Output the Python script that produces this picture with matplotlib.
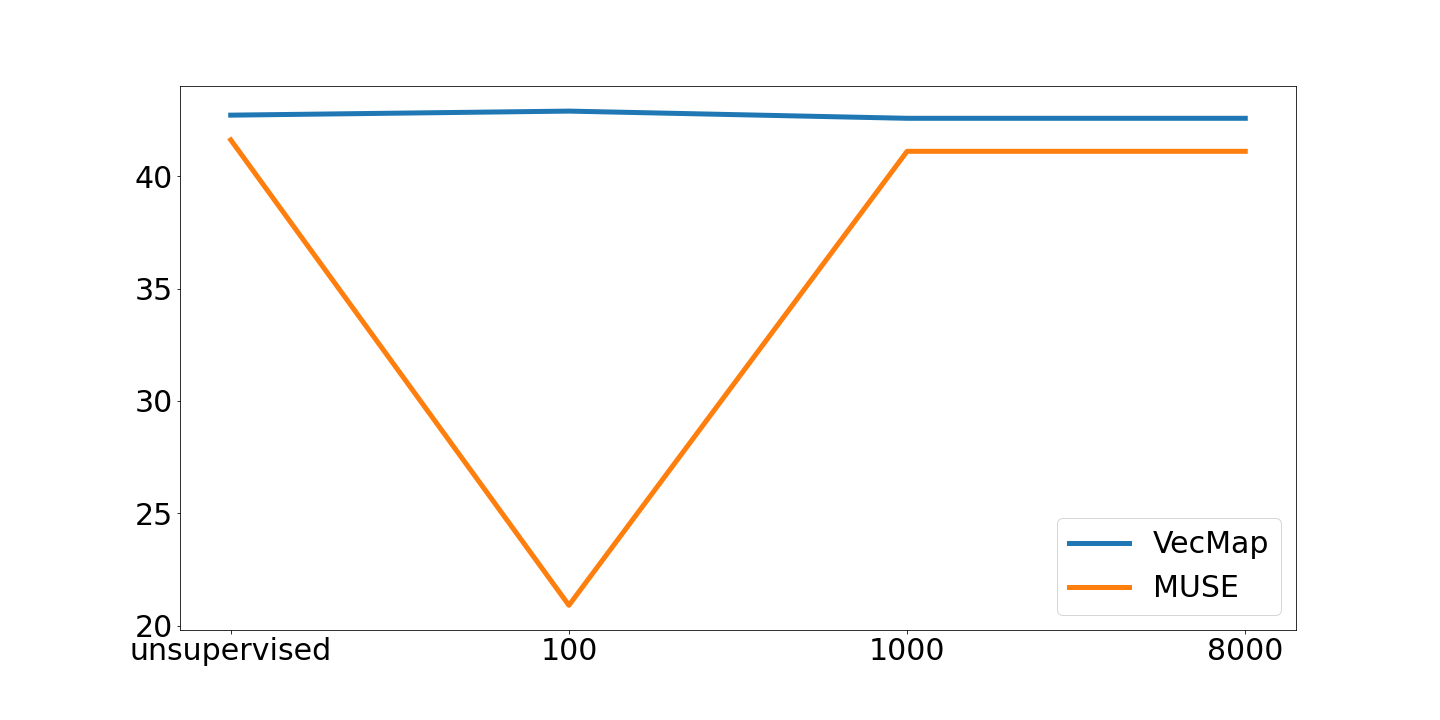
import matplotlib
matplotlib.use('Agg')
import matplotlib.pyplot as plt

# Data
settings = ['unsupervised', '100', '1000', '8000']
vecmap = [42.72, 42.9, 42.58, 42.58]
muse = [41.62, 20.9, 41.11, 41.11]

fig, ax = plt.subplots(figsize=(20, 10), dpi=72)
fig.subplots_adjust(left=0.125, right=0.9, top=0.88, bottom=0.125)

ax.plot(settings, vecmap, linewidth=5, label='VecMap')
ax.plot(settings, muse, linewidth=5, label='MUSE')

ax.tick_params(labelsize=30)
ax.legend(fontsize=30, loc='lower right')

fig.savefig('out.png', dpi=72)
